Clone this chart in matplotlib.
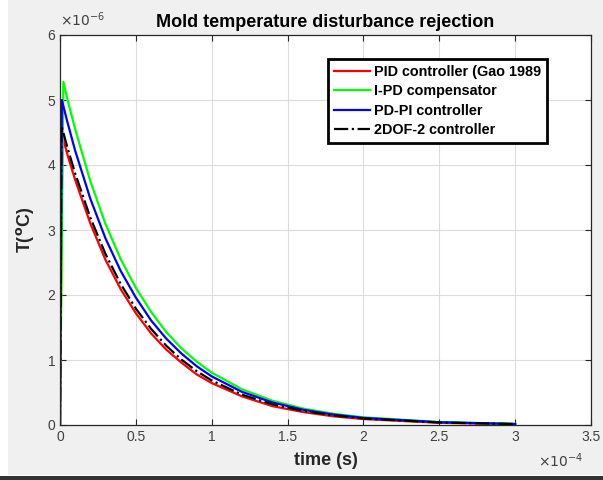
import numpy as np
import matplotlib
matplotlib.use("Agg")
import matplotlib.pyplot as plt
from matplotlib.patches import Rectangle

plt.rcParams['font.family'] = ['Liberation Sans', 'DejaVu Sans']

# time in units of 1e-4 s, temperature in units of 1e-6 degC
t_red = [0, 0.015, 0.05, 0.1, 0.2, 0.3, 0.4, 0.5, 0.6, 0.7, 0.8, 0.9, 1.0, 1.2, 1.4, 1.6, 1.8, 2.0, 2.5, 3.0]
T_red = [0, 4.45, 4.15, 3.77, 3.10, 2.54, 2.09, 1.72, 1.41, 1.16, 0.96, 0.78, 0.645, 0.44, 0.29, 0.20, 0.134, 0.091, 0.034, 0.013]

t_green = [0, 0.022, 0.05, 0.1, 0.2, 0.3, 0.4, 0.5, 0.6, 0.7, 0.8, 0.9, 1.0, 1.2, 1.4, 1.6, 1.8, 2.0, 2.5, 3.0]
T_green = [0, 5.28, 5.00, 4.55, 3.75, 3.09, 2.55, 2.11, 1.74, 1.43, 1.18, 0.976, 0.805, 0.548, 0.373, 0.254, 0.173, 0.118, 0.045, 0.017]

t_blue = [0, 0.012, 0.05, 0.1, 0.2, 0.3, 0.4, 0.5, 0.6, 0.7, 0.8, 0.9, 1.0, 1.2, 1.4, 1.6, 1.8, 2.0, 2.5, 3.0]
T_blue = [0, 5.00, 4.65, 4.22, 3.48, 2.87, 2.37, 1.96, 1.61, 1.33, 1.10, 0.906, 0.748, 0.509, 0.347, 0.236, 0.161, 0.109, 0.042, 0.016]

t_black = [0, 0.01, 0.05, 0.1, 0.2, 0.3, 0.4, 0.5, 0.6, 0.7, 0.8, 0.9, 1.0, 1.2, 1.4, 1.6, 1.8, 2.0, 2.5, 3.0]
T_black = [0, 4.60, 4.26, 3.87, 3.19, 2.63, 2.17, 1.79, 1.48, 1.22, 1.007, 0.83, 0.685, 0.466, 0.318, 0.216, 0.147, 0.100, 0.038, 0.015]

labels = ['PID controller (Gao 1989', 'I-PD compensator', 'PD-PI controller', '2DOF-2 controller']
xticks = [0, 0.5, 1, 1.5, 2, 2.5, 3, 3.5]
xticklabels = ['0', '0.5', '1', '1.5', '2', '2.5', '3', '3.5']
yticks = [0, 1, 2, 3, 4, 5, 6]

fig = plt.figure(figsize=(6.03, 4.8), dpi=100)
fig.patch.set_facecolor('white')
# matlab style grey window and the dark edge at the bottom of the screenshot
fig.add_artist(Rectangle((8/603, 5/480), 1, 1, transform=fig.transFigure,
                         facecolor='#f0f0f0', edgecolor='none', zorder=-10))
fig.add_artist(Rectangle((0, 0), 1, 4/480, transform=fig.transFigure,
                         facecolor='#333333', edgecolor='none', zorder=-9))

ax = fig.add_axes([60/603, 55/480, 531/603, 390/480])
ax.set_facecolor('white')

ax.plot(t_red, T_red, color=(1, 0, 0), lw=1.6, label=labels[0])
ax.plot(t_green, T_green, color=(0, 1, 0), lw=1.6, label=labels[1])
ax.plot(t_blue, T_blue, color=(0, 0, 1), lw=1.6, label=labels[2])
ax.plot(t_black, T_black, color='black', lw=1.6, ls='-.', label=labels[3])

ax.set_xlim(0, 3.5)
ax.set_ylim(0, 6)
ax.set_xticks(xticks)
ax.set_xticklabels(xticklabels)
ax.set_yticks(yticks)
ax.grid(True, color='#dcdcdc', lw=0.8)
ax.set_axisbelow(True)
ax.tick_params(direction='in', top=True, right=True, length=4, width=0.8,
               colors='#262626', labelsize=10, labelcolor='#404040')
for s in ax.spines.values():
    s.set_color('#262626')
    s.set_linewidth(0.9)

ax.set_title('Mold temperature disturbance rejection', fontsize=13,
             fontweight='bold', color='black', pad=6)
ax.set_xlabel('time (s)', fontsize=13, fontweight='bold', color='#262626', labelpad=6)
ax.set_ylabel(r'T($^{\mathbf{o}}$C)', fontsize=13, fontweight='bold', color='#262626', labelpad=8)

ax.text(0.0, 1.015, r'$\times10^{-6}$', transform=ax.transAxes, fontsize=10,
        color='#404040', ha='left', va='bottom')
ax.text(0.985, -0.068, r'$\times10^{-4}$', transform=ax.transAxes, fontsize=10,
        color='#404040', ha='right', va='top')

leg = ax.legend(loc='upper left', bbox_to_anchor=(0.505, 0.938), fancybox=False,
                framealpha=1, edgecolor='black', handlelength=2.5, handletextpad=0.3,
                borderpad=0.4, labelspacing=0.38, borderaxespad=0,
                prop={'weight': 'bold', 'size': 10.4})
leg.get_frame().set_linewidth(2)

fig.savefig('out.png', dpi=100)
